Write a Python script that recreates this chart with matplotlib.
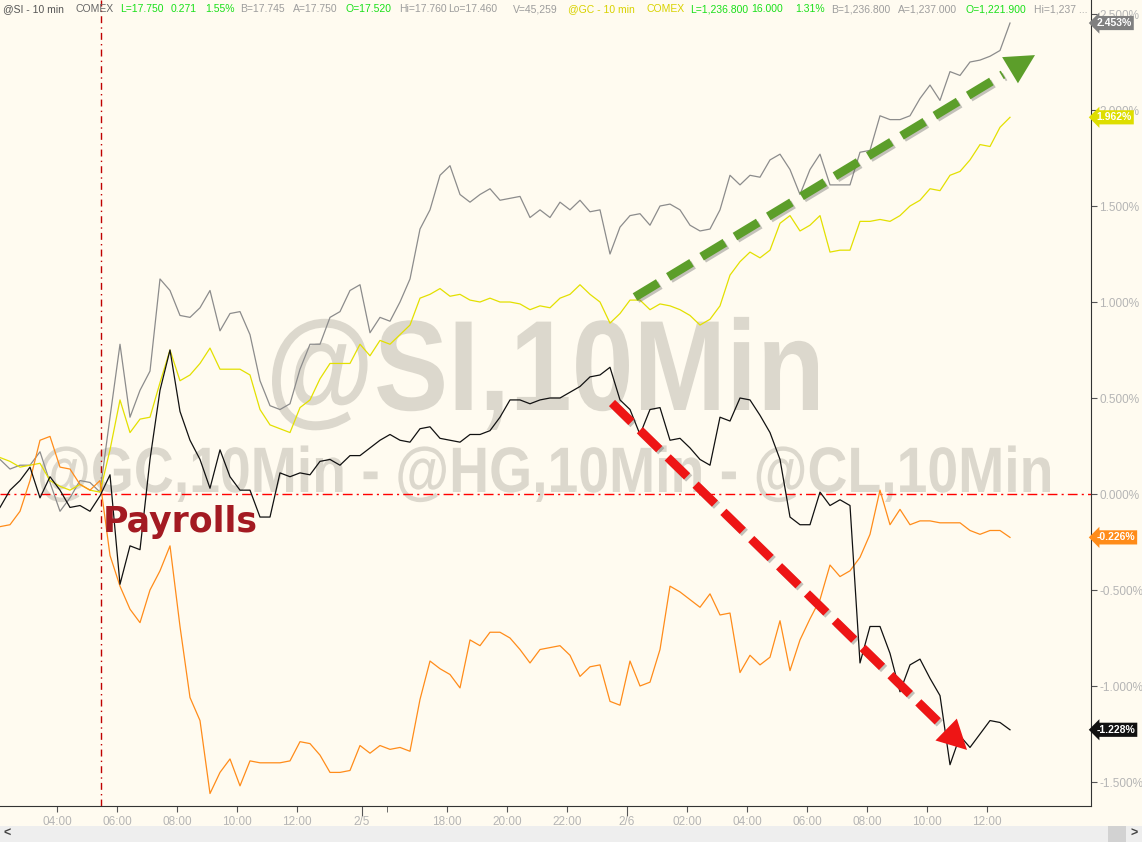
import matplotlib
matplotlib.use("Agg")
import matplotlib.pyplot as plt
import matplotlib.patheffects as pe
from matplotlib.patches import Rectangle, PathPatch
from matplotlib.textpath import TextPath
from matplotlib.font_manager import FontProperties
from matplotlib.transforms import Affine2D, IdentityTransform
import numpy as np

plt.rcParams["font.family"] = ["Liberation Sans", "DejaVu Sans"]

# ---------- data: % change, one value every 2 ten-minute bars ----------
si_pct = [0.18, 0.13, 0.15, 0.15, 0.22, 0.06, -0.09, -0.02, 0.07, 0.06,
          0.01, 0.40, 0.78, 0.40, 0.54, 0.64, 1.12, 1.06, 0.93, 0.92,
          0.97, 1.06, 0.85, 0.94, 0.95, 0.83, 0.59, 0.46, 0.44, 0.47,
          0.65, 0.78, 0.78, 0.92, 0.95, 1.06, 1.09, 0.84, 0.92, 0.90,
          1.00, 1.12, 1.38, 1.48, 1.66, 1.71, 1.56, 1.52, 1.56, 1.59,
          1.53, 1.54, 1.55, 1.44, 1.48, 1.44, 1.52, 1.48, 1.53, 1.47,
          1.48, 1.25, 1.39, 1.45, 1.46, 1.40, 1.50, 1.51, 1.48, 1.40,
          1.37, 1.38, 1.48, 1.66, 1.61, 1.66, 1.65, 1.74, 1.77, 1.69,
          1.56, 1.69, 1.77, 1.61, 1.61, 1.61, 1.78, 1.79, 1.97, 1.95,
          1.95, 1.97, 2.06, 2.13, 2.05, 2.20, 2.18, 2.25, 2.26, 2.28,
          2.31, 2.453]
gc_pct = [0.19, 0.17, 0.14, 0.15, 0.16, 0.07, 0.04, 0.02, 0.05, 0.02,
          0.01, 0.23, 0.49, 0.32, 0.39, 0.40, 0.58, 0.75, 0.59, 0.62,
          0.68, 0.76, 0.65, 0.65, 0.65, 0.62, 0.44, 0.36, 0.34, 0.32,
          0.45, 0.49, 0.60, 0.68, 0.68, 0.68, 0.78, 0.72, 0.80, 0.78,
          0.83, 0.88, 1.02, 1.04, 1.07, 1.03, 1.04, 1.01, 1.00, 1.02,
          1.00, 1.00, 0.99, 0.96, 0.98, 0.97, 1.02, 1.04, 1.09, 1.04,
          1.00, 0.89, 0.94, 1.01, 1.01, 0.96, 0.99, 0.98, 0.96, 0.93,
          0.88, 0.91, 0.98, 1.14, 1.21, 1.26, 1.23, 1.27, 1.41, 1.45,
          1.37, 1.40, 1.45, 1.26, 1.27, 1.27, 1.42, 1.42, 1.43, 1.42,
          1.45, 1.50, 1.53, 1.59, 1.58, 1.66, 1.68, 1.74, 1.82, 1.81,
          1.91, 1.962]
hg_pct = [-0.07, 0.02, 0.07, 0.14, -0.02, 0.09, 0.02, -0.07, -0.06, -0.09,
          -0.01, 0.10, -0.47, -0.27, -0.29, 0.18, 0.54, 0.75, 0.43, 0.28,
          0.18, 0.03, 0.23, 0.09, 0.02, 0.02, -0.12, -0.12, 0.11, 0.09,
          0.11, 0.10, 0.17, 0.18, 0.15, 0.20, 0.20, 0.24, 0.28, 0.31,
          0.28, 0.27, 0.34, 0.35, 0.29, 0.28, 0.27, 0.31, 0.31, 0.33,
          0.40, 0.49, 0.49, 0.47, 0.49, 0.50, 0.50, 0.53, 0.56, 0.61,
          0.62, 0.66, 0.49, 0.44, 0.31, 0.44, 0.45, 0.28, 0.29, 0.24,
          0.18, 0.15, 0.40, 0.38, 0.50, 0.49, 0.41, 0.32, 0.18, -0.12,
          -0.16, -0.16, 0.01, -0.06, -0.03, -0.06, -0.88, -0.69, -0.69, -0.83,
          -1.03, -0.89, -0.86, -0.96, -1.05, -1.41, -1.26, -1.32, -1.25, -1.18,
          -1.19, -1.228]
cl_pct = [-0.17, -0.16, -0.09, 0.07, 0.28, 0.30, 0.14, 0.13, 0.05, 0.02,
          0.07, -0.32, -0.48, -0.60, -0.67, -0.50, -0.40, -0.27, -0.69, -1.06,
          -1.18, -1.56, -1.45, -1.38, -1.52, -1.39, -1.40, -1.40, -1.40, -1.39,
          -1.29, -1.30, -1.36, -1.45, -1.45, -1.44, -1.31, -1.35, -1.31, -1.33,
          -1.32, -1.34, -1.07, -0.87, -0.91, -0.94, -1.01, -0.76, -0.79, -0.72,
          -0.72, -0.75, -0.81, -0.88, -0.81, -0.80, -0.79, -0.84, -0.95, -0.90,
          -0.89, -1.08, -1.10, -0.87, -1.00, -0.98, -0.81, -0.48, -0.51, -0.55,
          -0.59, -0.52, -0.63, -0.62, -0.93, -0.84, -0.89, -0.85, -0.66, -0.92,
          -0.76, -0.65, -0.55, -0.37, -0.43, -0.40, -0.33, -0.21, 0.02, -0.16,
          -0.08, -0.16, -0.14, -0.14, -0.15, -0.15, -0.15, -0.19, -0.21, -0.19,
          -0.19, -0.226]

tick_bars = [11.4, 23.4, 35.4, 47.4, 59.4, 72.4, 89.4, 101.4, 113.4,
             125.4, 137.4, 149.4, 161.4, 173.4, 185.4, 197.4]
tick_labels = ["04:00", "06:00", "08:00", "10:00", "12:00", "2/5", "18:00",
               "20:00", "22:00", "2/6", "02:00", "04:00", "06:00", "08:00",
               "10:00", "12:00"]
payrolls_bar = 20.2

BG = "#fffbf0"
GRAY, YEL, BLK, ORG = "#8c8c8c", "#e3e000", "#111111", "#ff8c1a"
LABEL = "#b5b5b5"

W, H = 1142, 842
fig = plt.figure(figsize=(W / 100, H / 100), dpi=100, facecolor=BG)
ax = fig.add_axes([0, 36 / H, 1091 / W, 806 / H], facecolor=BG)


# watermarks (condensed bold type, squeezed to the reference width)
def watermark(txt, left, right, baseline, cap):
    fp = FontProperties(family="Liberation Sans", weight="bold")
    path = TextPath((0, 0), txt, size=100, prop=fp)
    ext = path.get_extents()
    sx = (right - left) / ext.width
    sy = cap / 71.6
    tr = Affine2D().translate(-ext.x0, 0).scale(sx, sy).translate(left, H - baseline)
    patch = PathPatch(path, transform=tr + IdentityTransform(), fc="#dcd8cd",
                      ec="none", zorder=0.5)
    ax.add_artist(patch)


watermark("@SI,10Min", 272, 818, 410, 92)
watermark("@GC,10Min - @HG,10Min - @CL,10Min", 40, 1050, 492, 46)

for vals, col in [(si_pct, GRAY), (gc_pct, YEL), (cl_pct, ORG), (hg_pct, BLK)]:
    x = np.arange(len(vals)) * 2
    ax.plot(x, vals, color=col, lw=0.9, zorder=2)

ax.set_xlim(0, 218.2)
ax.set_ylim(-1.625, 2.573)

ax.axhline(0, color="#ff0000", lw=1, ls=(0, (7, 3, 1.5, 3)), zorder=1.5)
ax.axvline(payrolls_bar, color="#c00000", lw=1, ls=(0, (5, 3, 1, 3)), zorder=1.5)
ax.text(payrolls_bar + 0.4, -0.198, "Payrolls", color="#a31a22", fontsize=25,
        fontweight="bold", family="DejaVu Sans", va="baseline", zorder=4)


# trend arrows
def trend_arrow(start, tip, col):
    frac = 0.92
    mid = (start[0] + (tip[0] - start[0]) * frac, start[1] + (tip[1] - start[1]) * frac)
    shadow = [pe.SimpleLineShadow(offset=(1.5, -1.5), shadow_color="#555555", alpha=0.35),
              pe.Normal()]
    ax.plot([start[0], mid[0]], [start[1], mid[1]], color=col, lw=6.3,
            ls=(0, (3.1, 1.35)), solid_capstyle="butt", dash_capstyle="butt",
            zorder=5, path_effects=shadow)
    pre = (start[0] + (tip[0] - start[0]) * 0.88, start[1] + (tip[1] - start[1]) * 0.88)
    ax.annotate("", xy=tip, xytext=pre, zorder=6,
                arrowprops=dict(arrowstyle="-|>,head_length=1.05,head_width=0.55",
                                mutation_scale=20, fc=col, ec=col, lw=0,
                                shrinkA=0, shrinkB=0))


trend_arrow((127.0, 1.026), (207.0, 2.286), "#5c9e2a")
trend_arrow((122.4, 0.474), (193.4, -1.333), "#ee1515")

# axes styling
for s in ["top", "left"]:
    ax.spines[s].set_visible(False)
ax.spines["right"].set_color("#333333")
ax.spines["bottom"].set_color("#333333")
ax.yaxis.tick_right()
yt = np.arange(-1.5, 2.51, 0.5)
ax.set_yticks(yt)
ax.set_yticklabels([f"{v:.3f}%" for v in yt])
ax.tick_params(axis="y", colors="#555555", labelcolor=LABEL, labelsize=8.5,
               length=4, direction="out", pad=2)
ax.set_xticks(tick_bars)
ax.set_xticklabels(tick_labels)
ax.set_xticks([77.4], minor=True)
ax.tick_params(axis="x", which="both", colors="#555555", labelcolor=LABEL,
               labelsize=8.5, length=4, direction="out", pad=3)
for t, lab in zip(ax.xaxis.get_major_ticks(), tick_labels):
    if "/" in lab:
        t.tick1line.set_markersize(7)

# value badges on the right
for val, col in [(2.453, "#808080"), (1.962, "#dede00"), (-0.226, "#ff8c1a"), (-1.228, "#111111")]:
    ax.text(1.005, val, f"{val:.3f}%", transform=ax.get_yaxis_transform(),
            ha="left", va="center", fontsize=7.5, color="white", fontweight="bold",
            bbox=dict(boxstyle="larrow,pad=0.2", fc=col, ec="none"), zorder=7,
            clip_on=False)

# header quote line
hy = 1 - 9 / H
header = [
    (3, "@SI - 10 min", "#555555"), (75, "COMEX", "#666666"),
    (120, "L=17.750", "#19e019"), (171, "0.271", "#19e019"), (205, "1.55%", "#19e019"),
    (240, "B=17.745", "#9d9d9d"), (293, "A=17.750", "#9d9d9d"),
    (345, "O=17.520", "#19e019"), (399, "Hi=17.760", "#9d9d9d"),
    (448, "Lo=17.460", "#9d9d9d"), (513, "V=45,259", "#9d9d9d"),
    (568, "@GC - 10 min", "#d8d200"), (646, "COMEX", "#d8d200"),
    (690, "L=1,236.800", "#19e019"), (751, "16.000", "#19e019"), (795, "1.31%", "#19e019"),
    (831, "B=1,236.800", "#9d9d9d"), (898, "A=1,237.000", "#9d9d9d"),
    (965, "O=1,221.900", "#19e019"), (1034, "Hi=1,237 ...", "#9d9d9d"),
]
for px, txt, col in header:
    fig.text(px / W, hy, txt, color=col, fontsize=7.5,
             ha="left", va="center")

# scroll bar strip at the bottom
fig.patches.append(Rectangle((0, 0), 1, 16 / H, transform=fig.transFigure,
                             fc="#eeeeee", ec="none", zorder=0))
fig.patches.append(Rectangle((1108 / W, 0), 18 / W, 16 / H, transform=fig.transFigure,
                             fc="#d2d2d2", ec="none", zorder=1))
fig.text(7 / W, 8 / H, "<", color="#444444", fontsize=9, fontweight="bold",
         ha="center", va="center")
fig.text(1134 / W, 8 / H, ">", color="#444444", fontsize=9, fontweight="bold",
         ha="center", va="center")

fig.savefig("out.png", dpi=100, facecolor=BG)
